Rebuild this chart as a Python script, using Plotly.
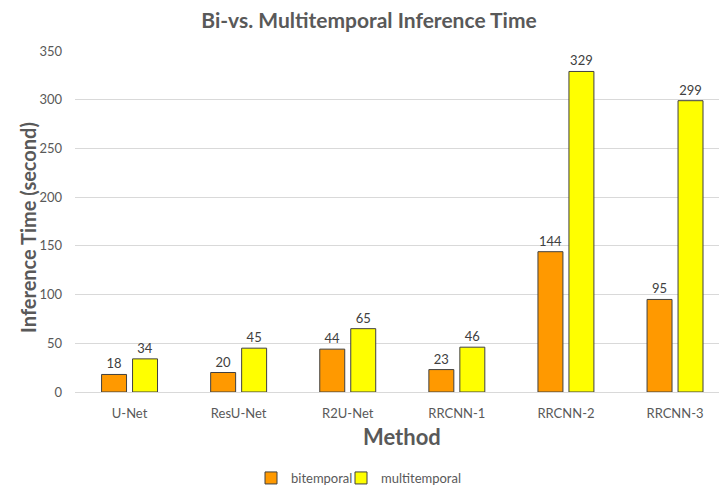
import plotly.graph_objects as go

methods = ["U-Net", "ResU-Net", "R2U-Net", "RRCNN-1", "RRCNN-2", "RRCNN-3"]
bitemporal = [18, 20, 44, 23, 144, 95]
multitemporal = [34, 45, 65, 46, 329, 299]
y_ticks = [0, 50, 100, 150, 200, 250, 300, 350]

FONT = "Lato, 'Open Sans', sans-serif"
GREY = "#595959"
LABEL = "#404040"
OUTLINE = "#404040"

# plot area in pixels: left 75, width 644, top 51, height 341
PL, PW, PT, PH = 75, 644, 51, 341


def px_x(x):
    return (x - PL) / PW


def px_y(y):
    return (PT + PH - y) / PH


fig = go.Figure()
fig.add_trace(go.Bar(
    name="bitemporal", x=methods, y=bitemporal,
    marker=dict(color="#FF9900", line=dict(color=OUTLINE, width=1)),
    text=bitemporal, textposition="outside", cliponaxis=False,
    textfont=dict(size=13, color=LABEL, family=FONT),
    legend="legend",
))
fig.add_trace(go.Bar(
    name="multitemporal", x=methods, y=multitemporal,
    marker=dict(color="#FFFF00", line=dict(color=OUTLINE, width=1)),
    text=multitemporal, textposition="outside", cliponaxis=False,
    textfont=dict(size=13, color=LABEL, family=FONT),
    legend="legend2",
))

legend_style = dict(orientation="h", xanchor="left", yanchor="middle",
                    y=px_y(478), bgcolor="rgba(0,0,0,0)",
                    font=dict(size=13, color=GREY, family=FONT),
                    itemwidth=30)

fig.update_layout(
    width=719, height=485,
    margin=dict(l=PL, r=0, t=PT, b=485 - PT - PH, autoexpand=False),
    paper_bgcolor="white", plot_bgcolor="white",
    barmode="group", bargap=0.432, bargroupgap=0.194,
    font=dict(family=FONT, color=GREY, size=13),
    title=dict(text="<b>Bi-vs. Multitemporal Inference Time</b>",
               x=369 / 719, xref="container", xanchor="center",
               y=1 - 21 / 485, yref="container", yanchor="middle",
               font=dict(size=21, color=GREY, family=FONT)),
    showlegend=True,
    legend=dict(x=px_x(251), **legend_style),
    legend2=dict(x=px_x(341), **legend_style),
    xaxis=dict(range=[-0.5, 5.403], showgrid=False, showline=False,
               ticks="", ticklabelstandoff=12,
               tickfont=dict(size=13, color=GREY)),
    yaxis=dict(range=[0, 350], tickvals=y_ticks, showgrid=True,
               gridcolor="#d9d9d9", gridwidth=1, zeroline=True,
               zerolinecolor="#d9d9d9", zerolinewidth=1, showline=False,
               ticks="", ticklabelstandoff=12,
               tickfont=dict(size=13, color=GREY)),
    annotations=[
        dict(text="<b>Inference Time (second)</b>", textangle=-90,
             xref="paper", yref="paper", x=px_x(28), y=px_y(228),
             xanchor="center", yanchor="middle", showarrow=False,
             font=dict(size=20, color=GREY, family=FONT)),
        dict(text="<b>Method</b>",
             xref="paper", yref="paper", x=px_x(402), y=px_y(437),
             xanchor="center", yanchor="middle", showarrow=False,
             font=dict(size=22, color=GREY, family=FONT)),
    ],
)

fig.write_html("out.html")
